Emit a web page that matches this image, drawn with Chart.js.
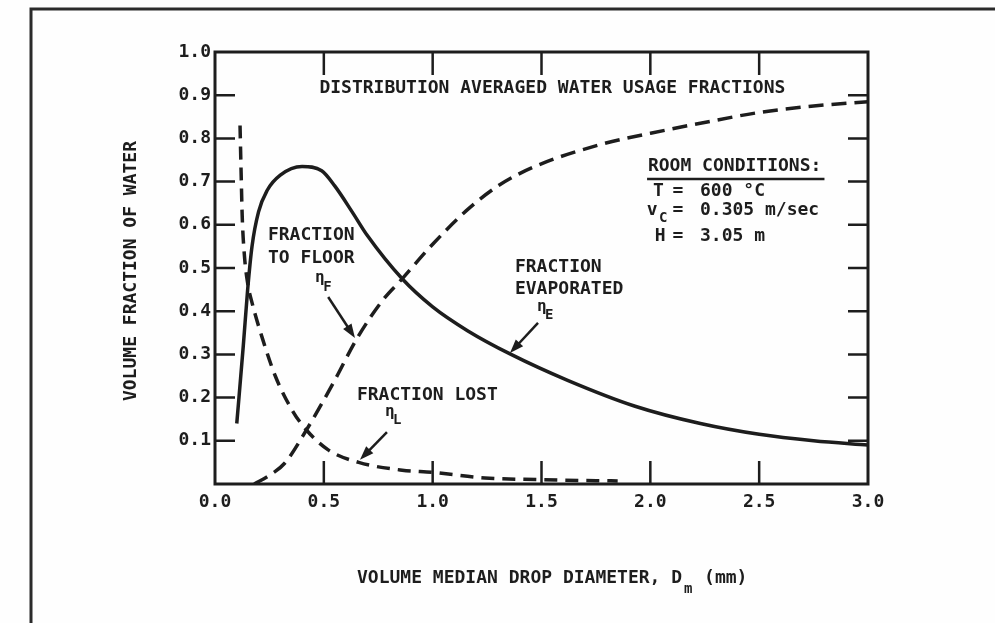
<!DOCTYPE html>
<html>
<head>
<meta charset="utf-8">
<script src="https://cdn.jsdelivr.net/npm/chart.js@4.4.1/dist/chart.umd.min.js"></script>
<style>
  html, body { margin: 0; padding: 0; background: #fff; }
  #wrap { width: 995px; height: 623px; position: relative; }
</style>
</head>
<body>
<div id="wrap"><canvas id="chart"></canvas></div>
<script>
// values (x = drop diameter in mm, y = volume fraction)
const evapX = [0.10, 0.13, 0.15, 0.17, 0.20, 0.24, 0.30, 0.40, 0.49, 0.55, 0.63, 0.70, 0.86, 1.00, 1.16, 1.36, 1.62, 1.93, 2.23, 2.50, 2.75, 3.00];
const evapY = [0.14, 0.32, 0.45, 0.55, 0.63, 0.68, 0.715, 0.735, 0.725, 0.69, 0.63, 0.575, 0.475, 0.41, 0.355, 0.30, 0.24, 0.18, 0.14, 0.115, 0.10, 0.09];

const floorX = [0.18, 0.25, 0.32, 0.42, 0.55, 0.65, 0.77, 0.86, 1.00, 1.16, 1.30, 1.47, 1.78, 2.08, 2.23, 2.50, 2.75, 3.00];
const floorY = [0.0, 0.02, 0.048, 0.125, 0.24, 0.335, 0.425, 0.475, 0.555, 0.635, 0.69, 0.735, 0.787, 0.82, 0.835, 0.86, 0.875, 0.885];

const lostX = [0.115, 0.12, 0.125, 0.135, 0.15, 0.17, 0.216, 0.277, 0.353, 0.42, 0.52, 0.66, 0.86, 1.00, 1.24, 1.49, 1.85];
const lostY = [0.83, 0.72, 0.62, 0.53, 0.465, 0.42, 0.34, 0.25, 0.172, 0.125, 0.079, 0.05, 0.032, 0.027, 0.014, 0.01, 0.007];

const xTickValues = [0.0, 0.5, 1.0, 1.5, 2.0, 2.5, 3.0];
const yTickValues = [0.1, 0.2, 0.3, 0.4, 0.5, 0.6, 0.7, 0.8, 0.9, 1.0];

const INK = '#1d1d1d';
const MONO = '"DejaVu Sans Mono", "Liberation Mono", monospace';

const toPoints = (xs, ys) => xs.map((x, i) => ({ x: x, y: ys[i] }));

// text and arrows on the figure, placed in data units
const notes = [
  { text: 'DISTRIBUTION AVERAGED WATER USAGE FRACTIONS', x: 1.55, y: 0.915, align: 'center' },
  { text: 'FRACTION', x: 0.243, y: 0.576 },
  { text: 'TO FLOOR', x: 0.243, y: 0.523 },
  { text: 'FRACTION', x: 1.378, y: 0.502 },
  { text: 'EVAPORATED', x: 1.378, y: 0.451 },
  { text: 'FRACTION LOST', x: 0.652, y: 0.206 },
  { text: 'ROOM CONDITIONS:', x: 1.989, y: 0.736 },
  { text: 'T', x: 2.012, y: 0.678 },
  { text: '=', x: 2.127, y: 0.678, align: 'center' },
  { text: '600 °C', x: 2.228, y: 0.678 },
  { text: 'v', x: 1.984, y: 0.634 },
  { text: '=', x: 2.127, y: 0.634, align: 'center' },
  { text: '0.305 m/sec', x: 2.228, y: 0.634 },
  { text: 'H', x: 2.02, y: 0.574 },
  { text: '=', x: 2.127, y: 0.574, align: 'center' },
  { text: '3.05 m', x: 2.228, y: 0.574 }
];
const subNotes = [
  { main: 'η', sub: 'F', x: 0.459, y: 0.477, sx: 0.497, sy: 0.456 },
  { main: 'η', sub: 'E', x: 1.479, y: 0.410, sx: 1.516, sy: 0.391 },
  { main: 'η', sub: 'L', x: 0.781, y: 0.167, sx: 0.818, sy: 0.148 },
  { main: '', sub: 'C', x: 0, y: 0, sx: 2.04, sy: 0.616 }
];
const arrows = [
  { from: [0.52, 0.433], to: [0.643, 0.338] },
  { from: [1.484, 0.373], to: [1.355, 0.303] },
  { from: [0.79, 0.120], to: [0.666, 0.056] }
];

const figurePlugin = {
  id: 'figure',
  beforeDraw(chart) {
    const ctx = chart.ctx;
    ctx.save();
    ctx.fillStyle = '#fefefe';
    ctx.fillRect(0, 0, chart.width, chart.height);
    // outer border of the scanned page
    ctx.strokeStyle = '#2b2b2b';
    ctx.lineWidth = 3;
    ctx.beginPath();
    ctx.moveTo(31, chart.height);
    ctx.lineTo(31, 9);
    ctx.lineTo(chart.width, 9);
    ctx.stroke();
    ctx.restore();
  },
  afterDatasetsDraw(chart) {
    const ctx = chart.ctx;
    const a = chart.chartArea;
    const xs = chart.scales.x, ys = chart.scales.y;
    const X = v => xs.getPixelForValue(v);
    const Y = v => ys.getPixelForValue(v);
    ctx.save();
    ctx.strokeStyle = INK;
    ctx.fillStyle = INK;

    // frame
    ctx.lineWidth = 3;
    ctx.strokeRect(a.left, a.top, a.right - a.left, a.bottom - a.top);

    // inner tick marks on all four sides
    ctx.lineWidth = 2.5;
    ctx.beginPath();
    yTickValues.filter(v => v < ys.max).forEach(v => {
      const py = Y(v);
      ctx.moveTo(a.left, py); ctx.lineTo(a.left + 20, py);
      ctx.moveTo(a.right, py); ctx.lineTo(a.right - 20, py);
    });
    xTickValues.filter(v => v > xs.min && v < xs.max).forEach(v => {
      const px = X(v);
      ctx.moveTo(px, a.bottom); ctx.lineTo(px, a.bottom - 23);
      ctx.moveTo(px, a.top); ctx.lineTo(px, a.top + 23);
    });
    ctx.stroke();

    // labels
    ctx.textBaseline = 'middle';
    ctx.font = 'bold 18px ' + MONO;
    notes.forEach(n => {
      ctx.textAlign = n.align || 'left';
      ctx.fillText(n.text, X(n.x), Y(n.y));
    });
    subNotes.forEach(n => {
      ctx.textAlign = 'left';
      if (n.main) {
        ctx.font = 'bold 16px ' + MONO;
        ctx.fillText(n.main, X(n.x), Y(n.y));
      }
      ctx.font = 'bold 14px ' + MONO;
      ctx.fillText(n.sub, X(n.sx), Y(n.sy));
    });

    // underline of the room conditions heading
    ctx.lineWidth = 2.5;
    ctx.beginPath();
    ctx.moveTo(X(1.985), Y(0.706));
    ctx.lineTo(X(2.80), Y(0.706));
    ctx.stroke();

    // arrows
    arrows.forEach(ar => {
      const x1 = X(ar.from[0]), y1 = Y(ar.from[1]);
      const x2 = X(ar.to[0]), y2 = Y(ar.to[1]);
      const ang = Math.atan2(y2 - y1, x2 - x1);
      ctx.lineWidth = 2.5;
      ctx.beginPath();
      ctx.moveTo(x1, y1);
      ctx.lineTo(x2 - 8 * Math.cos(ang), y2 - 8 * Math.sin(ang));
      ctx.stroke();
      ctx.beginPath();
      ctx.moveTo(x2, y2);
      ctx.lineTo(x2 - 14 * Math.cos(ang) + 5 * Math.sin(ang), y2 - 14 * Math.sin(ang) - 5 * Math.cos(ang));
      ctx.lineTo(x2 - 14 * Math.cos(ang) - 5 * Math.sin(ang), y2 - 14 * Math.sin(ang) + 5 * Math.cos(ang));
      ctx.closePath();
      ctx.fill();
    });

    // axis titles
    ctx.font = 'bold 18px ' + MONO;
    ctx.textAlign = 'left';
    const xt = 'VOLUME MEDIAN DROP DIAMETER, D';
    const tx = 357, ty = 578;
    ctx.fillText(xt, tx, ty);
    const w = ctx.measureText(xt).width;
    ctx.font = 'bold 14px ' + MONO;
    ctx.fillText('m', tx + w + 2, ty + 11);
    ctx.font = 'bold 18px ' + MONO;
    ctx.fillText('(mm)', tx + w + 22, ty);

    ctx.translate(131, (a.top + a.bottom) / 2 + 3);
    ctx.rotate(-Math.PI / 2);
    ctx.textAlign = 'center';
    ctx.fillText('VOLUME FRACTION OF WATER', 0, 0);
    ctx.restore();
  }
};

const lineStyle = { borderColor: INK, borderWidth: 3.5, pointRadius: 0, fill: false, cubicInterpolationMode: 'monotone' };

new Chart(document.getElementById('chart'), {
  type: 'line',
  data: {
    datasets: [
      Object.assign({ label: 'Fraction evaporated', data: toPoints(evapX, evapY) }, lineStyle),
      Object.assign({ label: 'Fraction to floor', data: toPoints(floorX, floorY), borderDash: [15, 8] }, lineStyle),
      Object.assign({ label: 'Fraction lost', data: toPoints(lostX, lostY), borderDash: [13, 8] }, lineStyle)
    ]
  },
  options: {
    responsive: true,
    maintainAspectRatio: false,
    animation: false,
    layout: { padding: { left: 0, top: 52, right: 127, bottom: 99 } },
    plugins: { legend: { display: false }, tooltip: { enabled: false } },
    scales: {
      x: {
        type: 'linear',
        min: 0, max: 3,
        afterFit: s => { s.height = 40; },
        afterBuildTicks: s => { s.ticks = xTickValues.map(v => ({ value: v })); },
        grid: { display: false, drawTicks: false },
        border: { display: false },
        ticks: {
          padding: 8,
          color: INK,
          font: { family: MONO, size: 18, weight: 'bold' },
          callback: v => Number(v).toFixed(1)
        }
      },
      y: {
        min: 0, max: 1,
        afterFit: s => { s.width = 215; },
        afterBuildTicks: s => { s.ticks = yTickValues.map(v => ({ value: v })); },
        grid: { display: false, drawTicks: false },
        border: { display: false },
        ticks: {
          padding: 4,
          color: INK,
          font: { family: MONO, size: 18, weight: 'bold' },
          callback: v => Number(v).toFixed(1)
        }
      }
    }
  },
  plugins: [figurePlugin]
});
</script>
</body>
</html>
